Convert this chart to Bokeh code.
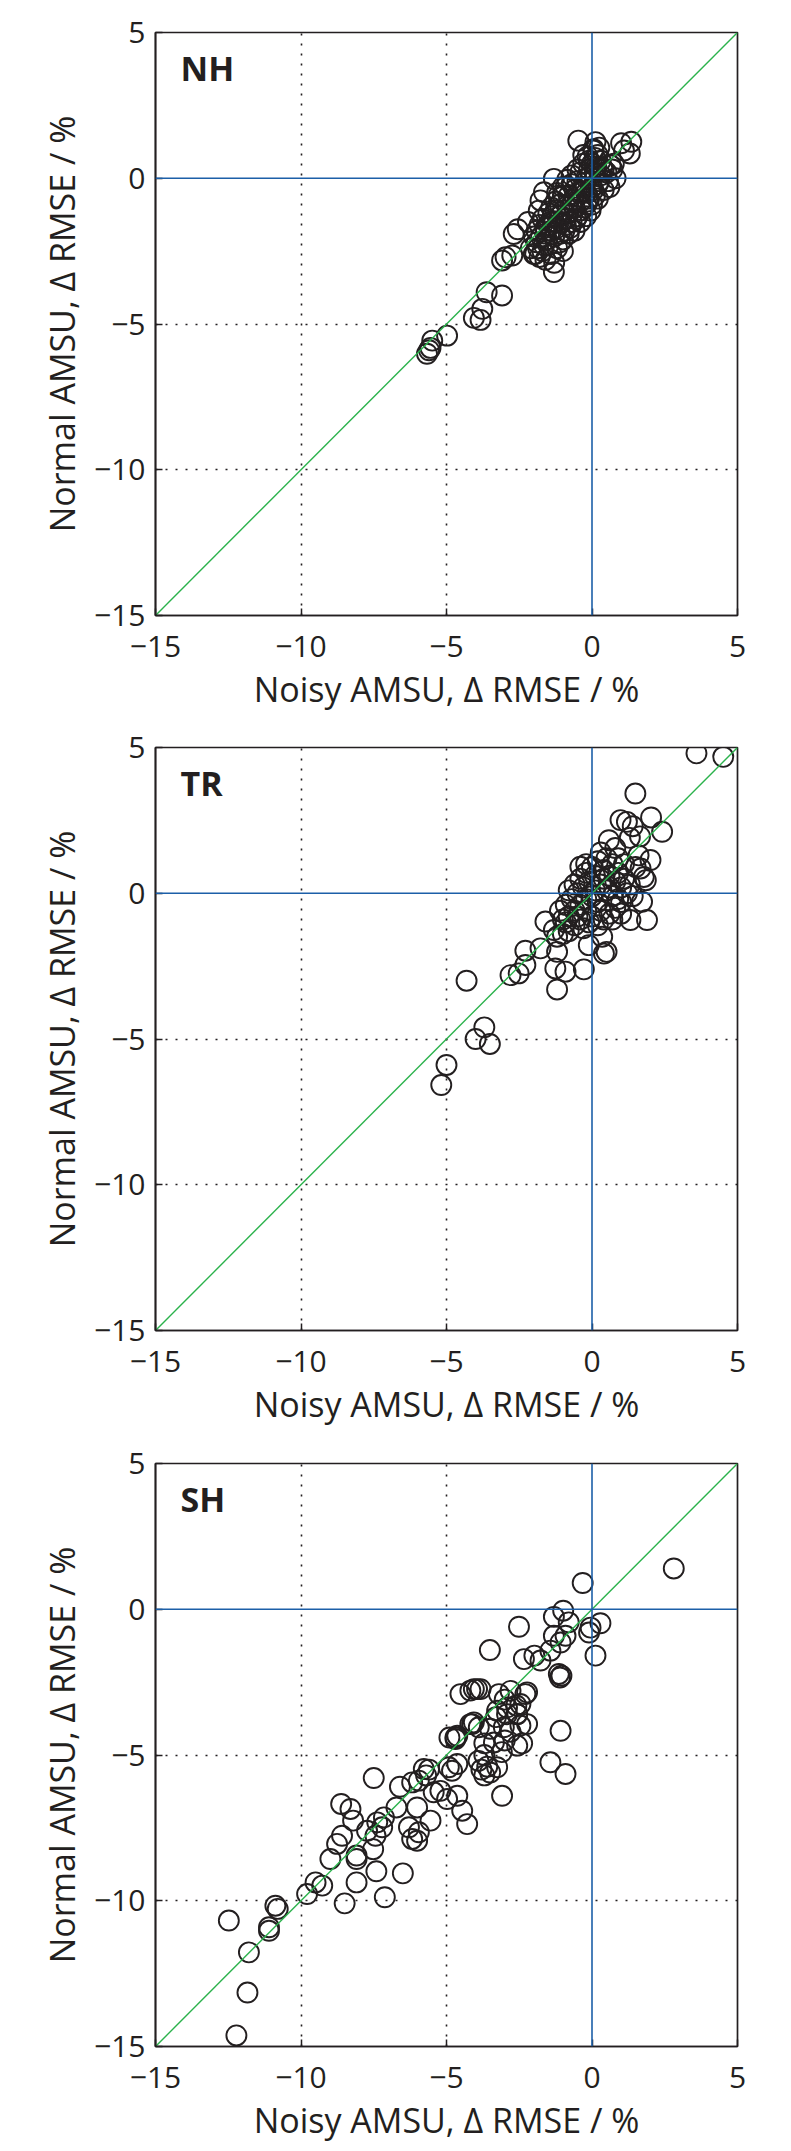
from bokeh.plotting import figure
from bokeh.layouts import column
from bokeh.models import Range1d, FixedTicker, Label, Span
from bokeh.embed import file_html
from bokeh.resources import INLINE

# ---------------- data ----------------
axis_limits = [-15, 5]
tick_values = [-15, -10, -5, 0, 5]
tick_labels = {-15: "\u221215", -10: "\u221210", -5: "\u22125", 0: "0", 5: "5"}
grid_values = [-10, -5]
x_title = "Noisy AMSU, \u0394 RMSE / %"
y_title = "Normal AMSU, \u0394 RMSE / %"
panel_names = ["NH", "TR", "SH"]

nh_pts = [
    (-0.47, 1.29), (0.12, 1.24), (0.25, 1.05), (0.05, 0.95), (1.0, 1.2), (1.35, 1.25),
    (1.3, 0.85), (1.1, 0.95), (0.75, 0.5), (0.64, 0.44), (0.81, 0.0), (0.55, -0.1), (0.4, 0.3),
    (-1.31, -0.02), (-1.65, -0.48), (-1.77, -0.76), (-1.83, -1.11), (-2.69, -1.91), (-2.55, -1.75),
    (-2.2, -1.5), (-2.97, -2.71), (-2.74, -2.65), (-3.09, -2.82), (-1.31, -3.22), (-0.05, -1.11),
    (-0.2, -0.9), (-3.62, -3.91), (-3.09, -4.02), (-3.77, -4.48), (-4.06, -4.79), (-3.83, -4.86),
    (-4.98, -5.40), (-5.49, -5.57), (-5.55, -5.82), (-5.67, -6.02), (-5.6, -5.9),
    (-2.1, -2.4), (-2.0, -2.6), (-1.9, -2.2), (-1.8, -2.7), (-1.7, -2.5), (-1.6, -2.8), (-1.5, -2.3),
    (-1.4, -2.6), (-1.3, -2.0), (-1.2, -2.4), (-1.6, -1.9), (-1.5, -1.6), (-1.4, -1.8), (-1.3, -1.5),
    (-1.2, -1.7), (-1.1, -1.9), (-1.0, -2.1), (-0.9, -1.6), (-1.1, -1.3), (-1.0, -1.1), (-0.9, -1.4),
    (-0.8, -1.2), (-0.7, -1.5), (-0.6, -1.0), (-0.5, -1.3), (-0.4, -0.8), (-0.3, -1.0), (-0.2, -0.5),
    (-0.1, -0.7), (0.0, -0.3), (0.1, -0.6), (0.2, -0.2), (0.3, 0.1), (0.1, 0.2), (0.0, 0.5),
    (-0.1, 0.3), (-0.2, 0.0), (-0.3, -0.3), (-0.4, 0.2), (-0.5, -0.1), (-0.6, -0.4), (-0.7, -0.2),
    (-0.8, -0.6), (-0.9, -0.3), (-1.0, -0.6), (-1.1, -0.9), (-1.2, -0.5), (-1.4, -1.0), (-1.5, -1.2),
    (-1.7, -1.4), (-1.8, -1.6), (-1.9, -1.8), (-2.0, -2.0), (-1.3, -2.9), (-1.0, -2.5), (-0.8, -1.9),
    (-0.6, -1.8), (-0.4, -1.5), (-0.2, -1.3), (0.0, -0.9), (0.2, -0.7), (0.4, -0.4), (0.5, 0.2),
    (0.3, 0.6), (0.2, 0.8), (0.1, 0.7), (-0.1, 0.6), (-0.3, 0.5), (-0.5, 0.3), (-0.7, 0.1),
    (-0.85, -0.05), (-1.0, -0.3), (-1.15, -0.6), (-1.25, -0.8), (-1.35, -1.3), (-1.45, -1.5),
    (-1.55, -2.1), (-1.65, -2.3), (-1.75, -2.0), (-1.85, -2.4), (-1.95, -2.6), (-1.1, -2.2),
    (-0.95, -1.8), (-0.75, -1.7), (-0.55, -1.4), (-0.35, -1.1), (-0.15, -0.8), (0.05, -0.4),
    (0.25, -0.1), (0.35, 0.35), (0.15, 0.4), (-0.05, 0.1), (-0.25, -0.15), (-0.45, -0.5),
    (-0.65, -0.75), (-0.85, -0.95), (-1.05, -1.5), (-1.25, -1.1), (-1.6, -1.7), (-0.3, 0.8),
    (0.05, 1.0), (-0.15, 0.75), (0.6, -0.3), (0.7, 0.3),
]

tr_pts = [
    (3.59, 4.80), (4.51, 4.68), (1.49, 3.42), (2.03, 2.60), (2.41, 2.11), (0.98, 2.51), (1.2, 2.45),
    (1.4, 2.3), (1.3, 1.9), (1.65, 1.95), (0.58, 1.82), (0.8, 1.55), (2.01, 1.14), (1.67, 0.85),
    (1.78, 0.56), (1.85, 0.45), (-0.40, 0.91), (1.72, -0.29), (1.89, -0.92), (1.32, -0.92),
    (-1.60, -0.97), (-1.31, -1.26), (-1.20, -1.49), (-1.77, -1.89), (-2.29, -1.97), (-2.29, -2.46),
    (-2.52, -2.75), (-2.80, -2.81), (-1.20, -2.01), (-1.26, -2.58), (-0.91, -2.69), (-0.28, -2.61),
    (-1.20, -3.30), (-0.11, -1.78), (0.35, -1.49), (0.41, -2.07), (0.50, -2.01), (-4.31, -3.00),
    (-3.70, -4.60), (-4.00, -5.00), (-3.51, -5.17), (-5.00, -5.89), (-5.18, -6.58),
    (-0.8, 0.1), (-0.6, 0.3), (-0.4, 0.5), (-0.2, 0.7), (0.0, 0.9), (0.2, 1.1), (0.4, 0.8),
    (0.6, 0.6), (0.8, 0.4), (1.0, 0.2), (1.2, 0.0), (1.0, -0.3), (0.8, -0.5), (0.6, -0.7),
    (0.4, -0.9), (0.2, -1.1), (0.0, -0.8), (-0.2, -0.6), (-0.4, -0.9), (-0.6, -1.1), (-0.8, -1.3),
    (-1.0, -0.9), (-1.1, -0.6), (-0.9, -0.4), (-0.7, -0.2), (-0.5, 0.0), (-0.3, 0.2), (-0.1, 0.4),
    (0.1, 0.6), (0.3, 0.3), (0.5, 0.1), (0.7, -0.1), (0.9, -0.2), (0.2, -0.3), (0.0, -0.1),
    (-0.2, -0.2), (-0.4, -0.4), (-0.6, -0.6), (-0.8, -0.8), (-0.3, -1.2), (0.1, 0.1), (0.4, 0.5),
    (0.6, 0.2), (0.9, 0.7), (1.1, 0.5), (1.3, 0.3), (1.4, -0.1), (0.3, -0.6), (-0.1, -1.0),
    (-0.5, -0.8), (1.1, 1.0), (0.9, 1.2), (1.5, 0.9), (1.6, 1.3), (0.7, 1.0), (-0.2, 1.0),
    (0.3, 1.4), (0.5, 1.2), (-0.9, -1.0), (-1.0, -1.4), (1.0, -0.7), (0.7, -0.9),
]

sh_pts = [
    (2.81, 1.40), (-0.32, 0.90), (-0.99, -0.05), (-1.31, -0.26), (0.29, -0.48), (-0.05, -0.63),
    (-0.1, -0.8), (0.12, -1.59), (-2.51, -0.60), (-3.51, -1.40), (-0.80, -0.45), (-0.91, -0.91),
    (-1.31, -0.91), (-1.08, -1.14), (-1.43, -1.42), (-2.34, -1.71), (-1.98, -1.59), (-1.77, -1.76),
    (-1.14, -2.22), (-1.10, -2.34), (-1.05, -2.28), (-4.52, -2.91), (-4.06, -2.74), (-3.83, -2.74),
    (-3.20, -2.91), (-2.80, -2.80), (-2.23, -2.85), (-2.57, -3.60), (-3.26, -3.48), (-2.92, -3.60),
    (-2.23, -3.94), (-2.46, -3.99), (-1.08, -4.17), (-1.43, -5.25), (-0.91, -5.65), (-4.69, -4.39),
    (-4.12, -3.94), (-3.0, -3.1), (-2.6, -3.3), (-3.3, -3.7), (-2.8, -4.2), (-3.0, -4.5),
    (-2.4, -4.6), (-3.5, -4.1), (-3.7, -4.6), (-3.1, -4.9),
    (-12.48, -10.68), (-11.79, -11.77), (-11.10, -11.03), (-11.10, -10.91), (-10.88, -10.17),
    (-10.80, -10.28), (-9.79, -9.77), (-9.50, -9.37), (-9.27, -9.48), (-8.50, -10.09),
    (-8.09, -9.37), (-7.12, -9.88), (-7.41, -8.99), (-6.50, -9.06), (-8.99, -8.57), (-8.76, -8.05),
    (-8.59, -7.77), (-8.62, -6.68), (-8.30, -6.85), (-8.21, -7.25), (-8.09, -8.45), (-8.09, -8.57),
    (-7.52, -8.23), (-7.73, -7.60), (-7.38, -7.31), (-7.15, -7.14), (-7.21, -7.48), (-7.44, -7.77),
    (-7.50, -5.79), (-6.60, -6.09), (-6.72, -6.80), (-6.29, -7.48), (-6.18, -7.88), (-6.01, -7.94),
    (-5.95, -7.65), (-6.01, -6.80), (-5.55, -7.25), (-6.18, -5.94), (-5.95, -5.88), (-5.78, -5.48),
    (-5.44, -6.28), (-5.21, -6.23), (-4.98, -6.51), (-4.63, -6.40), (-4.46, -6.91), (-4.29, -7.37),
    (-4.92, -5.42), (-4.81, -5.54), (-4.63, -5.31), (-4.69, -4.45), (-4.63, -4.34), (-4.18, -2.79),
    (-3.95, -2.74), (-4.06, -3.88), (-3.89, -4.05), (-3.9, -5.2), (-3.7, -5.0), (-3.8, -5.5),
    (-3.6, -5.4), (-3.5, -5.6), (-3.7, -5.7), (-3.26, -5.42), (-3.09, -6.40), (-11.84, -13.15),
    (-12.22, -14.62), (-2.92, -3.37), (-2.57, -3.59), (-2.46, -3.25), (-2.29, -2.91),
    (-3.37, -4.57), (-3.03, -4.05), (-2.57, -4.68), (-4.9, -4.4), (-5.6, -5.5), (-5.7, -5.7),
    (-4.18, -3.94),
]

panel_data = [nh_pts, tr_pts, sh_pts]
panel_heights = [715, 716, 720]

INK = "#231f20"
BLUE = "#1c5fa8"
GREEN = "#2bb24c"
FONT = "Open Sans"


def make_panel(name, pts, h):
    xs = [p[0] for p in pts]
    ys = [p[1] for p in pts]
    p = figure(width=791, height=h, output_backend="svg", toolbar_location=None,
               x_range=Range1d(*axis_limits), y_range=Range1d(*axis_limits),
               min_border_left=155, min_border_right=54, min_border_top=32,
               min_border_bottom=h - 32 - 583)
    p.background_fill_color = "white"
    p.border_fill_color = "white"
    p.outline_line_color = INK
    p.outline_line_width = 1.7

    for ax, title in ((p.xaxis[0], x_title), (p.yaxis[0], y_title)):
        ax.ticker = FixedTicker(ticks=tick_values)
        ax.major_label_overrides = tick_labels
        ax.minor_tick_line_color = None
        ax.major_tick_in = 7
        ax.major_tick_out = 0
        ax.major_tick_line_color = INK
        ax.major_tick_line_width = 1.5
        ax.axis_line_color = INK
        ax.axis_line_width = 1.7
        ax.major_label_text_font = FONT
        ax.major_label_text_font_size = "30px"
        ax.major_label_text_color = INK
        ax.axis_label = title
        ax.axis_label_text_font = FONT
        ax.axis_label_text_font_size = "34px"
        ax.axis_label_text_font_style = "normal"
        ax.axis_label_text_color = INK
    p.xaxis.major_label_standoff = 20
    p.yaxis.major_label_standoff = 10
    p.xaxis.axis_label_standoff = 6
    p.yaxis.axis_label_standoff = 6

    for g in (p.xgrid[0], p.ygrid[0]):
        g.ticker = FixedTicker(ticks=grid_values)
        g.grid_line_color = INK
        g.grid_line_width = 1.6
        g.grid_line_dash = "2 8"

    p.scatter(xs, ys, marker="circle", size=20, fill_color=None,
              line_color=INK, line_width=1.9)

    p.line(axis_limits, axis_limits, line_color=GREEN, line_width=1.4)
    p.add_layout(Span(location=0, dimension="height", line_color=BLUE, line_width=1.6))
    p.add_layout(Span(location=0, dimension="width", line_color=BLUE, line_width=1.6))

    p.add_layout(Label(x=25, y=548, x_units="screen", y_units="screen", text=name,
                       text_font=FONT, text_font_size="34px", text_font_style="bold",
                       text_color=INK, text_baseline="alphabetic"))
    return p


panels = [make_panel(n, d, h) for n, d, h in zip(panel_names, panel_data, panel_heights)]
layout = column(*panels, spacing=0)

open("out.html", "w").write(file_html(layout, INLINE))
